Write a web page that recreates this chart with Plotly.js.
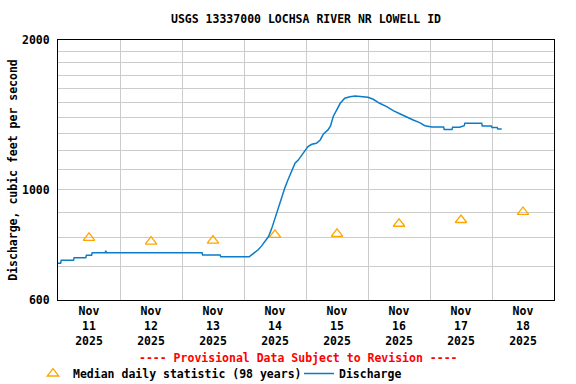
<!DOCTYPE html>
<html>
<head>
<meta charset="utf-8">
<script src="https://cdn.plot.ly/plotly-3.0.1.min.js"></script>
<style>html,body{margin:0;padding:0;background:#fff;}#chart{width:576px;height:384px;}</style>
</head>
<body>
<div id="chart"></div>
<script>
// Discharge (15-min provisional record)
const dischargeTimes = [
  "2025-11-11 00:00","2025-11-11 01:00","2025-11-11 01:15","2025-11-11 06:00","2025-11-11 06:15",
  "2025-11-11 10:45","2025-11-11 11:00","2025-11-11 13:00","2025-11-11 13:15","2025-11-11 18:15",
  "2025-11-11 18:30","2025-11-11 18:45","2025-11-13 07:45","2025-11-13 08:00","2025-11-13 14:45",
  "2025-11-13 15:00","2025-11-14 02:00","2025-11-14 03:00","2025-11-14 04:15","2025-11-14 05:30",
  "2025-11-14 06:45","2025-11-14 08:00","2025-11-14 09:30","2025-11-14 10:45","2025-11-14 12:00",
  "2025-11-14 13:15","2025-11-14 14:30","2025-11-14 15:45","2025-11-14 17:00","2025-11-14 18:30",
  "2025-11-14 19:45","2025-11-14 21:00","2025-11-14 22:15","2025-11-14 23:30","2025-11-15 00:45",
  "2025-11-15 02:15","2025-11-15 04:00","2025-11-15 05:30","2025-11-15 06:45","2025-11-15 08:30",
  "2025-11-15 09:30","2025-11-15 10:30","2025-11-15 12:00","2025-11-15 13:15","2025-11-15 15:00",
  "2025-11-15 17:00","2025-11-15 19:00","2025-11-15 21:00","2025-11-16 00:00","2025-11-16 02:00",
  "2025-11-16 04:30","2025-11-16 07:15","2025-11-16 09:45","2025-11-16 12:30","2025-11-16 15:00",
  "2025-11-16 17:30","2025-11-16 20:00","2025-11-16 22:00","2025-11-17 00:45","2025-11-17 05:15",
  "2025-11-17 05:30","2025-11-17 08:30","2025-11-17 08:45","2025-11-17 11:30","2025-11-17 13:15",
  "2025-11-17 13:30","2025-11-17 20:00","2025-11-17 20:15","2025-11-17 23:45","2025-11-18 00:00",
  "2025-11-18 02:00","2025-11-18 02:15","2025-11-18 03:45"
];
const dischargeValues = [
  711,711,721,721,730,
  730,738,738,747,747,
  754,747,747,739,739,
  733,733,739,747,757,
  770,786,805,836,876,
  917,968,1007,1046,1096,
  1130,1147,1169,1198,1221,
  1234,1240,1259,1295,1319,
  1343,1402,1446,1492,1527,
  1538,1543,1538,1534,1520,
  1492,1469,1442,1420,1398,
  1381,1364,1345,1337,1337,
  1322,1322,1335,1335,1345,
  1360,1360,1343,1343,1333,
  1333,1325,1325
];

// Median daily statistic (98 years)
const medianDates = ["2025-11-11 12:00","2025-11-12 12:00","2025-11-13 12:00","2025-11-14 12:00",
                     "2025-11-15 12:00","2025-11-16 12:00","2025-11-17 12:00","2025-11-18 12:00"];
const medianValues = [800, 786, 790, 811, 815, 854, 869, 902];

// Axis ticks
const xTickDates = medianDates;
const xTickLabels = ["Nov<br>11<br>2025","Nov<br>12<br>2025","Nov<br>13<br>2025","Nov<br>14<br>2025",
                     "Nov<br>15<br>2025","Nov<br>16<br>2025","Nov<br>17<br>2025","Nov<br>18<br>2025"];
const xGridDates = ["2025-11-12","2025-11-13","2025-11-14","2025-11-15","2025-11-16","2025-11-17","2025-11-18"];
const yTickValues = [600,700,800,900,1000,1100,1200,1300,1400,1500,1600,1700,1800,1900,2000];
const yTickLabels = ["600","","","","1000","","","","","","","","","","2000"];

const FONT = "DejaVu Sans Mono, Liberation Mono, monospace";
const legendFont = {family: FONT, size: 11.5, color: "#000", weight: "bold"};

const traces = [
  {
    x: medianDates, y: medianValues, type: "scatter", mode: "markers",
    name: "Median daily statistic (98 years)", legend: "legend",
    marker: {symbol: "triangle-up-open", size: 10, color: "#FFA500", line: {width: 1.3, color: "#FFA500"}}
  },
  {
    x: dischargeTimes, y: dischargeValues, type: "scatter", mode: "lines",
    name: "Discharge", legend: "legend2",
    line: {color: "#0A7CC8", width: 1.5}
  }
];

const layout = {
  width: 576, height: 384,
  margin: {l: 58, r: 22, t: 40, b: 84},
  paper_bgcolor: "#ffffff", plot_bgcolor: "#ffffff",
  font: {family: FONT, size: 11.5, color: "#000", weight: "bold"},
  title: {
    text: "USGS 13337000 LOCHSA RIVER NR LOWELL ID",
    font: {family: FONT, size: 11.5, color: "#000", weight: "bold"},
    x: 0.5, xref: "paper", xanchor: "center",
    y: 1 - 19/384, yref: "container", yanchor: "middle"
  },
  xaxis: {
    type: "date",
    range: ["2025-11-11 00:00", "2025-11-19 00:00"],
    tickmode: "array", tickvals: xTickDates, ticktext: xTickLabels,
    ticks: "", showgrid: false, automargin: false,
    tickfont: {family: FONT, size: 11.5, color: "#000", weight: "bold"},
    minor: {tickmode: "array", tickvals: xGridDates, showgrid: true, gridcolor: "#cccccc", gridwidth: 1, ticks: ""},
    showline: true, linecolor: "#000", linewidth: 1, mirror: true,
    zeroline: false, fixedrange: true
  },
  yaxis: {
    type: "log",
    range: [Math.log10(600), Math.log10(2000)],
    tickmode: "array", tickvals: yTickValues, ticktext: yTickLabels,
    ticks: "outside", ticklen: 5, tickcolor: "rgba(0,0,0,0)",
    showgrid: true, gridcolor: "#cccccc", gridwidth: 1, automargin: false,
    tickfont: {family: FONT, size: 11.5, color: "#000", weight: "bold"},
    title: {text: "Discharge, cubic feet per second", font: {family: FONT, size: 11.5, color: "#000", weight: "bold"}},
    showline: true, linecolor: "#000", linewidth: 1, mirror: true,
    zeroline: false, fixedrange: true
  },
  showlegend: true,
  legend: {
    orientation: "h", xref: "container", yref: "container",
    x: 33 / 576, xanchor: "left", y: 1 - 359 / 384, yanchor: "top",
    font: legendFont, bgcolor: "rgba(0,0,0,0)", borderwidth: 0
  },
  legend2: {
    orientation: "h", xref: "container", yref: "container",
    x: 299 / 576, xanchor: "left", y: 1 - 359 / 384, yanchor: "top",
    font: legendFont, bgcolor: "rgba(0,0,0,0)", borderwidth: 0
  },
  annotations: [{
    text: "---- Provisional Data Subject to Revision ----",
    xref: "paper", yref: "paper",
    x: (298.7 - 58) / 496, y: (300 - 358) / 260,
    xanchor: "center", yanchor: "middle", showarrow: false,
    font: {family: FONT, size: 11.5, color: "#FF0000", weight: "bold"}
  }]
};

Plotly.newPlot("chart", traces, layout, {displayModeBar: false, staticPlot: true});
</script>
</body>
</html>
